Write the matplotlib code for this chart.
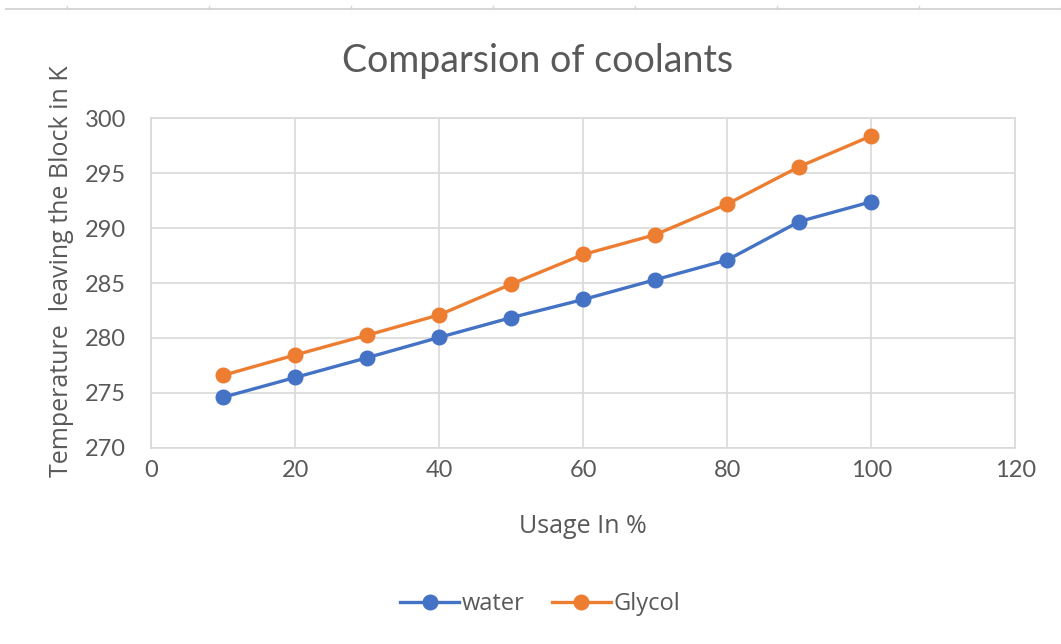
import matplotlib
matplotlib.use("Agg")
import matplotlib.pyplot as plt
from matplotlib.lines import Line2D

usage = [10, 20, 30, 40, 50, 60, 70, 80, 90, 100]
water = [274.6, 276.4, 278.2, 280.05, 281.85, 283.5, 285.3, 287.1, 290.6, 292.4]
glycol = [276.6, 278.45, 280.25, 282.1, 284.9, 287.6, 289.4, 292.2, 295.6, 298.4]
x_ticks = [0, 20, 40, 60, 80, 100, 120]
y_ticks = [270, 275, 280, 285, 290, 295, 300]

blue = "#4472C4"
orange = "#ED7D31"
grid = "#D9D9D9"
text_col = "#595959"

fig = plt.figure(figsize=(10.61, 6.44), dpi=100)
ax = fig.add_axes([0.1426, 0.3048, 0.8144, 0.5115])

ax.plot(usage, water, color=blue, lw=2.4, marker="o", ms=10.5, label="water", zorder=3)
ax.plot(usage, glycol, color=orange, lw=2.4, marker="o", ms=10.5, label="Glycol", zorder=3)

ax.set_xlim(0, 120)
ax.set_ylim(270, 300)
ax.set_xticks(x_ticks)
ax.set_yticks(y_ticks)
ax.grid(True, color=grid, lw=1.2)
ax.set_axisbelow(True)
for s in ax.spines.values():
    s.set_color(grid)
    s.set_linewidth(1.2)
ax.tick_params(length=0, labelsize=17, colors=text_col)
ax.tick_params(axis="x", pad=9)
ax.tick_params(axis="y", pad=18)
for lab in ax.get_xticklabels() + ax.get_yticklabels():
    lab.set_family("Lato")

fig.text(0.549, 0.172, "Usage In %", ha="center", va="baseline",
         fontsize=18, color=text_col, family="Open Sans")
fig.text(0.0584, 0.579, "Temperature  leaving the Block in K", ha="center", va="center",
         rotation=90, fontsize=18, color=text_col, family="Open Sans")

fig.text(0.507, 0.888, "Comparsion of coolants", ha="center", va="baseline",
         fontsize=27, color=text_col, family="Lato")

handles = [
    Line2D([], [], color=blue, lw=2.4, marker="o", ms=10.5),
    Line2D([], [], color=orange, lw=2.4, marker="o", ms=10.5),
]
fig.legend(handles, ["water", "Glycol"], loc="center", bbox_to_anchor=(0.509, 0.062),
           ncol=2, frameon=False, prop={"family": "Open Sans", "size": 17},
           labelcolor=text_col, handlelength=2.5, handletextpad=0.1, columnspacing=1.15)

# thin ruler across the top edge with small notches
rule_y = 0.9865
fig.add_artist(Line2D([0.006, 1], [rule_y, rule_y], color="#D6D6D6", lw=1.4,
                      transform=fig.transFigure))
for k in range(8):
    xn = (67 + 142 * k) / 1061
    fig.add_artist(Line2D([xn, xn], [rule_y, rule_y + 0.004], color="#D6D6D6", lw=1.0,
                          transform=fig.transFigure))

fig.savefig("out.png", dpi=100)
